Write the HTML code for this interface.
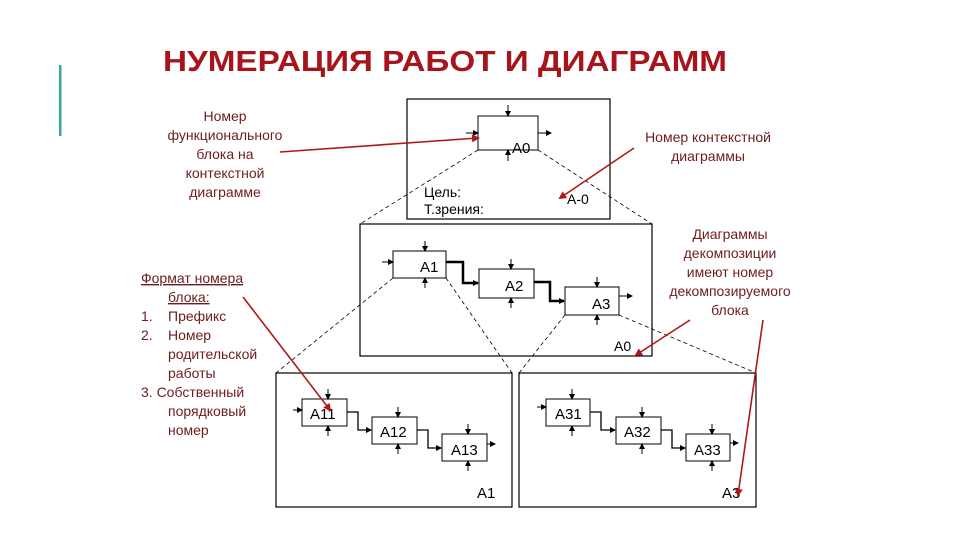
<!DOCTYPE html>
<html><head><meta charset="utf-8"><style>
html,body{margin:0;padding:0;background:#fff;}
svg{display:block;font-family:"Liberation Sans",sans-serif;}
</style></head><body>
<svg width="960" height="540" viewBox="0 0 960 540" xmlns="http://www.w3.org/2000/svg">
<defs>
<marker id="a" markerWidth="6" markerHeight="6" refX="5" refY="3" orient="auto" markerUnits="userSpaceOnUse"><path d="M0,0 L6,3 L0,6 z" fill="#000"/></marker>
<marker id="r" markerWidth="8" markerHeight="8" refX="6" refY="4" orient="auto" markerUnits="userSpaceOnUse"><path d="M0,0 L8,4 L0,8 z" fill="#b01818"/></marker>
</defs>
<rect x="59" y="65" width="2.5" height="71" fill="#3aa3a8"/>
<text x="163" y="71" font-size="29" font-weight="bold" fill="#a8141c" textLength="564" lengthAdjust="spacingAndGlyphs">НУМЕРАЦИЯ РАБОТ И ДИАГРАММ</text>

<g fill="#6e1c1c" font-size="14" text-anchor="middle">
<text x="225" y="121">Номер</text>
<text x="225" y="140">функционального</text>
<text x="225" y="159">блока на</text>
<text x="225" y="178">контекстной</text>
<text x="225" y="197">диаграмме</text>
<text x="708" y="142">Номер контекстной</text>
<text x="708" y="161">диаграммы</text>
<text x="730" y="239">Диаграммы</text>
<text x="730" y="258">декомпозиции</text>
<text x="730" y="277">имеют номер</text>
<text x="730" y="296">декомпозируемого</text>
<text x="730" y="315">блока</text>
</g>
<g fill="#6e1c1c" font-size="14">
<text x="141" y="283" text-decoration="underline">Формат номера</text>
<text x="168" y="302" text-decoration="underline">блока:</text>
<text x="141" y="321">1.</text><text x="168" y="321">Префикс</text>
<text x="141" y="340">2.</text><text x="168" y="340">Номер</text>
<text x="168" y="359">родительской</text>
<text x="168" y="378">работы</text>
<text x="141" y="397">3. Собственный</text>
<text x="168" y="416">порядковый</text>
<text x="168" y="435">номер</text>
</g>

<!-- frames -->
<g stroke="#000" stroke-width="1.2" fill="none">
<rect x="407" y="99" width="203" height="120" fill="#fff"/>
<rect x="360" y="224" width="292" height="132" fill="#fff"/>
<rect x="276" y="373" width="236" height="134" fill="#fff"/>
<rect x="519" y="373" width="237" height="134" fill="#fff"/>
</g>

<!-- dashed -->
<g stroke="#000" stroke-width="0.8" stroke-dasharray="4,3" fill="none">
<line x1="478" y1="150" x2="360" y2="224"/>
<line x1="538" y1="150" x2="652" y2="224"/>
<line x1="393" y1="278" x2="276" y2="373"/>
<line x1="446" y1="278" x2="512" y2="373"/>
<line x1="565" y1="315" x2="519" y2="373"/>
<line x1="619" y1="315" x2="756" y2="373"/>
</g>

<g stroke="#000" stroke-width="1" fill="#fff">
<rect x="478" y="116" width="60" height="34"/>
<rect x="393" y="251" width="53" height="27"/>
<rect x="479" y="269" width="55" height="29"/>
<rect x="565" y="287" width="54" height="28"/>
<rect x="302" y="399" width="45" height="27"/>
<rect x="372" y="417" width="45" height="27"/>
<rect x="442" y="434" width="45" height="27"/>
<rect x="546" y="399" width="44" height="27"/>
<rect x="616" y="417" width="45" height="27"/>
<rect x="686" y="434" width="44" height="27"/>
</g>

<g stroke="#000" stroke-width="1" fill="none" marker-end="url(#a)">
<line x1="508" y1="105" x2="508" y2="116"/><line x1="508" y1="161" x2="508" y2="150"/>
<line x1="466" y1="133" x2="478" y2="133"/><line x1="538" y1="133" x2="551" y2="133"/>
<line x1="425" y1="241" x2="425" y2="251"/><line x1="425" y1="288" x2="425" y2="278"/>
<line x1="382" y1="262" x2="393" y2="262"/>
<line x1="511" y1="259" x2="511" y2="269"/><line x1="511" y1="308" x2="511" y2="298"/>
<line x1="597" y1="277" x2="597" y2="287"/><line x1="597" y1="325" x2="597" y2="315"/>
<line x1="619" y1="296" x2="632" y2="296"/>
<line x1="328" y1="389" x2="328" y2="399"/><line x1="328" y1="436" x2="328" y2="426"/>
<line x1="293" y1="410" x2="302" y2="410"/>
<line x1="398" y1="407" x2="398" y2="417"/><line x1="398" y1="454" x2="398" y2="444"/>
<line x1="468" y1="424" x2="468" y2="434"/><line x1="468" y1="471" x2="468" y2="461"/>
<line x1="487" y1="444" x2="495" y2="444"/>
<line x1="572" y1="389" x2="572" y2="399"/><line x1="572" y1="436" x2="572" y2="426"/>
<line x1="537" y1="407" x2="546" y2="407"/>
<line x1="642" y1="407" x2="642" y2="417"/><line x1="642" y1="454" x2="642" y2="444"/>
<line x1="712" y1="424" x2="712" y2="434"/><line x1="712" y1="471" x2="712" y2="461"/>
<line x1="730" y1="443" x2="738" y2="443"/>
</g>
<g stroke="#000" fill="none" marker-end="url(#a)">
<polyline stroke-width="2.5" points="446,262 463,262 463,283 478,283"/>
<polyline stroke-width="2.5" points="534,282 550,282 550,301 564,301"/>
<polyline stroke-width="1.3" points="347,412 358,412 358,430 371,430"/>
<polyline stroke-width="1.3" points="417,430 428,430 428,448 441,448"/>
<polyline stroke-width="1.3" points="590,412 601,412 601,430 615,430"/>
<polyline stroke-width="1.3" points="661,430 672,430 672,448 685,448"/>
</g>

<g font-size="15" fill="#000">
<text x="512" y="153">A0</text>
<text x="420" y="272">A1</text>
<text x="505" y="291">A2</text>
<text x="592" y="309">A3</text>
<text x="310" y="419">A11</text>
<text x="380" y="437">A12</text>
<text x="451" y="455">A13</text>
<text x="555" y="419">A31</text>
<text x="624" y="437">A32</text>
<text x="694" y="455">A33</text>
<text x="477" y="498">A1</text>
<text x="722" y="498">A3</text>
<text x="567" y="204" font-size="14">A-0</text>
<text x="614" y="351" font-size="14">A0</text>
<text x="424" y="197" font-size="14">Цель:</text>
<text x="424" y="214" font-size="14">Т.зрения:</text>
</g>

<g stroke="#b01818" stroke-width="1.6" fill="none" marker-end="url(#r)">
<line x1="280" y1="152" x2="478" y2="138"/>
<line x1="634" y1="148" x2="560" y2="198"/>
<line x1="690" y1="320" x2="636" y2="355"/>
<line x1="243" y1="297" x2="330" y2="410"/>
<line x1="763" y1="320" x2="738" y2="495"/>
</g>
</svg>
</body></html>
